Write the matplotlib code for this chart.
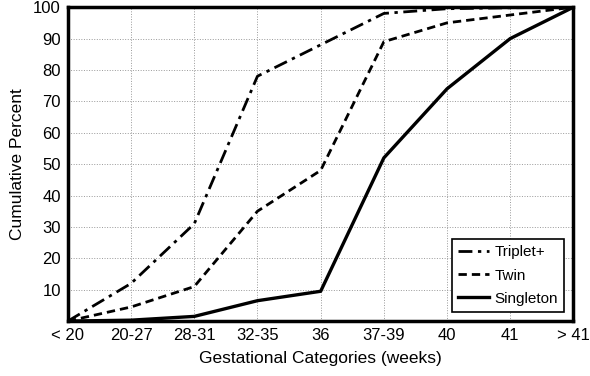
import matplotlib.pyplot as plt

categories = ['< 20', '20-27', '28-31', '32-35', '36', '37-39', '40', '41', '> 41']
triplet = [0, 12, 31, 78, 88, 98, 99.5, 99.8, 100]
twin = [0, 4.5, 11, 35, 48, 89, 95, 97.5, 100]
singleton = [0, 0.3, 1.5, 6.5, 9.5, 52, 74, 90, 100]
y_ticks = [10, 20, 30, 40, 50, 60, 70, 80, 90, 100]

plt.rcParams['font.family'] = ['Liberation Sans', 'DejaVu Sans']

fig = plt.figure(figsize=(5.9, 3.76), dpi=100)
ax = fig.add_axes([0.115, 0.146, 0.857, 0.835])

x = range(len(categories))
ax.plot(x, triplet, color='black', lw=2.0, linestyle=(0, (5, 2, 1.2, 2)), label='Triplet+')
ax.plot(x, twin, color='black', lw=2.0, linestyle=(0, (3, 1.8)), label='Twin')
ax.plot(x, singleton, color='black', lw=2.4, linestyle='-', label='Singleton')

ax.set_xlim(0, len(categories) - 1)
ax.set_ylim(0, 100)
ax.set_xticks(list(x))
ax.set_xticklabels(categories, fontsize=12)
ax.set_yticks(y_ticks)
ax.set_yticklabels([str(v) for v in y_ticks], fontsize=12)
ax.tick_params(length=0, pad=5)
ax.grid(True, color='#999999', linestyle=':', linewidth=0.7)

for side in ['top', 'bottom', 'left', 'right']:
    ax.spines[side].set_linewidth(2.5)

ax.set_xlabel('Gestational Categories (weeks)', fontsize=12.5, labelpad=6)
ax.set_ylabel('Cumulative Percent', fontsize=12.5, labelpad=6)

leg = ax.legend(loc='lower right', fontsize=11, fancybox=False, framealpha=1,
                edgecolor='black', handlelength=2.0, handletextpad=0.4,
                borderaxespad=0.6, labelspacing=0.6)
leg.get_frame().set_linewidth(1.2)

plt.savefig('out.png', dpi=100)
